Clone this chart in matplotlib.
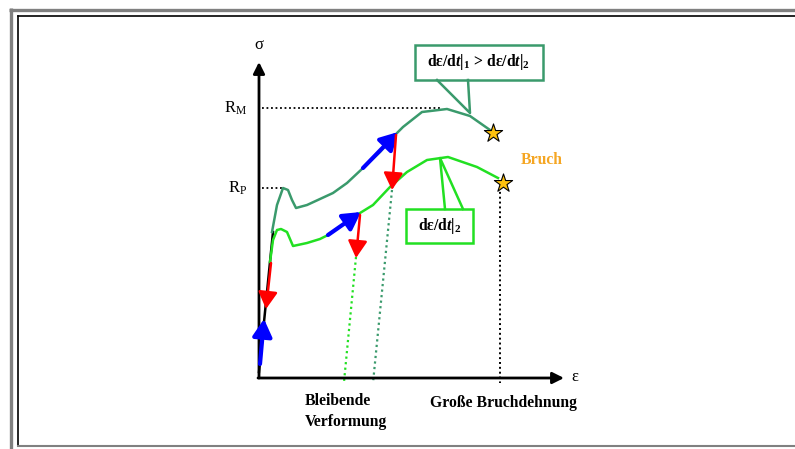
import matplotlib
matplotlib.use("Agg")
import matplotlib.pyplot as plt
from matplotlib.patches import Rectangle

plt.rcParams['font.family'] = ['Liberation Serif', 'DejaVu Serif']
plt.rcParams['mathtext.fontset'] = 'custom'
plt.rcParams['mathtext.rm'] = 'Liberation Serif:bold'
plt.rcParams['mathtext.it'] = 'Liberation Serif:italic:bold'
plt.rcParams['mathtext.bf'] = 'Liberation Serif:bold'

# schematic stress-strain data (strain eps, stress sig), arbitrary units
eps_fast = [13, 18, 24, 29, 33, 37, 48, 74, 88, 104, 121, 138, 144, 163, 188, 211, 231]
sig_fast = [146, 173, 190, 188, 178, 170, 173, 185, 195, 210, 226, 245, 251, 266, 269, 262, 248]
eps_slow = [11, 14, 18, 22, 28, 34, 48, 61, 69, 101, 114, 131, 148, 168, 189, 218, 239]
sig_slow = [116, 138, 148, 149, 146, 132, 135, 139, 143, 165, 173, 191, 206, 218, 221, 211, 200]
eps_elastic = [0, 14]
sig_elastic = [6, 146]
break_eps = [234, 244]
break_sig = [245, 195]
R_M = 270
R_P = 190

# loading (blue) and unloading (red) arrows: (eps0, sig0, eps1, sig1)
load_arrows = [(1, 14, 5, 59), (69, 143, 102, 166), (104, 210, 139, 246)]
unload_arrows = [(12, 115, 7, 69), (101, 163, 97, 120), (137, 243, 133, 188)]
# permanent strain lines after unloading
perm_slow = ([97, 85], [121, -4])
perm_fast = ([133, 114], [188, -5])
fracture_line = ([241, 241], [191, -5])

W, H = 795, 449
fig = plt.figure(figsize=(W / 100, H / 100), dpi=100)

# frame overlay in pixel units
fr = fig.add_axes([0, 0, 1, 1])
fr.set_xlim(0, W)
fr.set_ylim(H, 0)
fr.axis('off')
fr.plot([10.5, 10.5], [8, H], color='#808080', lw=2.4, solid_capstyle='butt')
fr.plot([9, W], [9.5, 9.5], color='#808080', lw=2.4, solid_capstyle='butt')
fr.plot([18, 18], [16, 446], color='black', lw=1.2)
fr.plot([18, W], [16, 16], color='black', lw=1.2)
fr.plot([18, W], [446, 446], color='#808080', lw=1.5)

ax = fig.add_axes([0, 0, 1, 1], facecolor='none')
ax.set_xlim(-259, W - 259)
ax.set_ylim(-(H - 378), 378)
ax.axis('off')

dark = '#3a9a6c'
light = '#22e022'

# coordinate axes
ax.annotate('', xy=(0, 316), xytext=(0, 0),
            arrowprops=dict(arrowstyle='-|>', color='black', lw=2, mutation_scale=17,
                            shrinkA=0, shrinkB=0))
ax.annotate('', xy=(305, 0), xytext=(-1, 0),
            arrowprops=dict(arrowstyle='-|>', color='black', lw=2, mutation_scale=17,
                            shrinkA=0, shrinkB=0))
ax.text(0, 333, 'σ', ha='center', va='center', fontsize=12)
ax.text(312, 1, 'ε', ha='left', va='center', fontsize=12)

# reference levels
ax.plot([3, 181], [R_M, R_M], color='black', lw=1.3, ls=(0, (1, 1.5)))
ax.plot([3, 24], [R_P, R_P], color='black', lw=1.3, ls=(0, (1, 1.5)))
ax.text(-12, R_M, r'R$_{\mathregular{M}}$', ha='right', va='center', fontsize=12)
ax.text(-12, R_P, r'R$_{\mathregular{P}}$', ha='right', va='center', fontsize=12)

# curves
ax.plot(eps_elastic, sig_elastic, color='black', lw=1.8)
ax.plot(eps_fast, sig_fast, color=dark, lw=1.8)
ax.plot(eps_slow, sig_slow, color=light, lw=1.8)

ax.plot(*perm_slow, color=light, lw=1.6, ls=(0, (1, 1.5)))
ax.plot(*perm_fast, color=dark, lw=1.6, ls=(0, (1, 1.5)))
ax.plot(*fracture_line, color='black', lw=1.4, ls=(0, (1, 1.5)))

for e0, s0, e1, s1 in load_arrows:
    ax.annotate('', xy=(e1, s1), xytext=(e0, s0),
                arrowprops=dict(arrowstyle='-|>,head_length=0.8,head_width=0.45',
                                color='#0000ff', lw=3, mutation_scale=13,
                                shrinkA=0, shrinkB=0))
for e0, s0, e1, s1 in unload_arrows:
    ax.annotate('', xy=(e1, s1), xytext=(e0, s0),
                arrowprops=dict(arrowstyle='-|>,head_length=0.8,head_width=0.45',
                                color='#ff0000', lw=1.8, mutation_scale=13,
                                shrinkA=0, shrinkB=0))

ax.scatter(break_eps, break_sig, marker='*', s=190, color='#ffc20e',
           edgecolors='black', linewidths=0.8, zorder=5)
ax.text(262, 218, 'Bruch', color='#f5a623', fontsize=11.3, fontweight='bold',
        ha='left', va='center')

# callouts
ax.add_patch(Rectangle((156, 298), 128, 35, facecolor='white', edgecolor=dark, lw=1.8, zorder=6))
ax.plot([178, 211, 209], [298, 265, 298], color=dark, lw=1.8, zorder=6)
ax.text(220, 315.5, r'dε/d$t$|$_{1}$ > dε/d$t$|$_{2}$', ha='center', va='center',
        fontsize=11.3, fontweight='bold', zorder=7)

ax.add_patch(Rectangle((147, 135), 67, 34, facecolor='white', edgecolor=light, lw=1.8, zorder=6))
ax.plot([186, 181, 204], [169, 220, 169], color=light, lw=1.8, zorder=6)
ax.text(180.5, 152, r'dε/d$t$|$_{2}$', ha='center', va='center',
        fontsize=11.3, fontweight='bold', zorder=7)

ax.text(46, -15, 'Bleibende\nVerformung', ha='left', va='top', fontsize=11.3,
        fontweight='bold', linespacing=1.45)
ax.text(171, -17, 'Große Bruchdehnung', ha='left', va='top', fontsize=11.3,
        fontweight='bold')

fig.savefig('out.png', dpi=100)
